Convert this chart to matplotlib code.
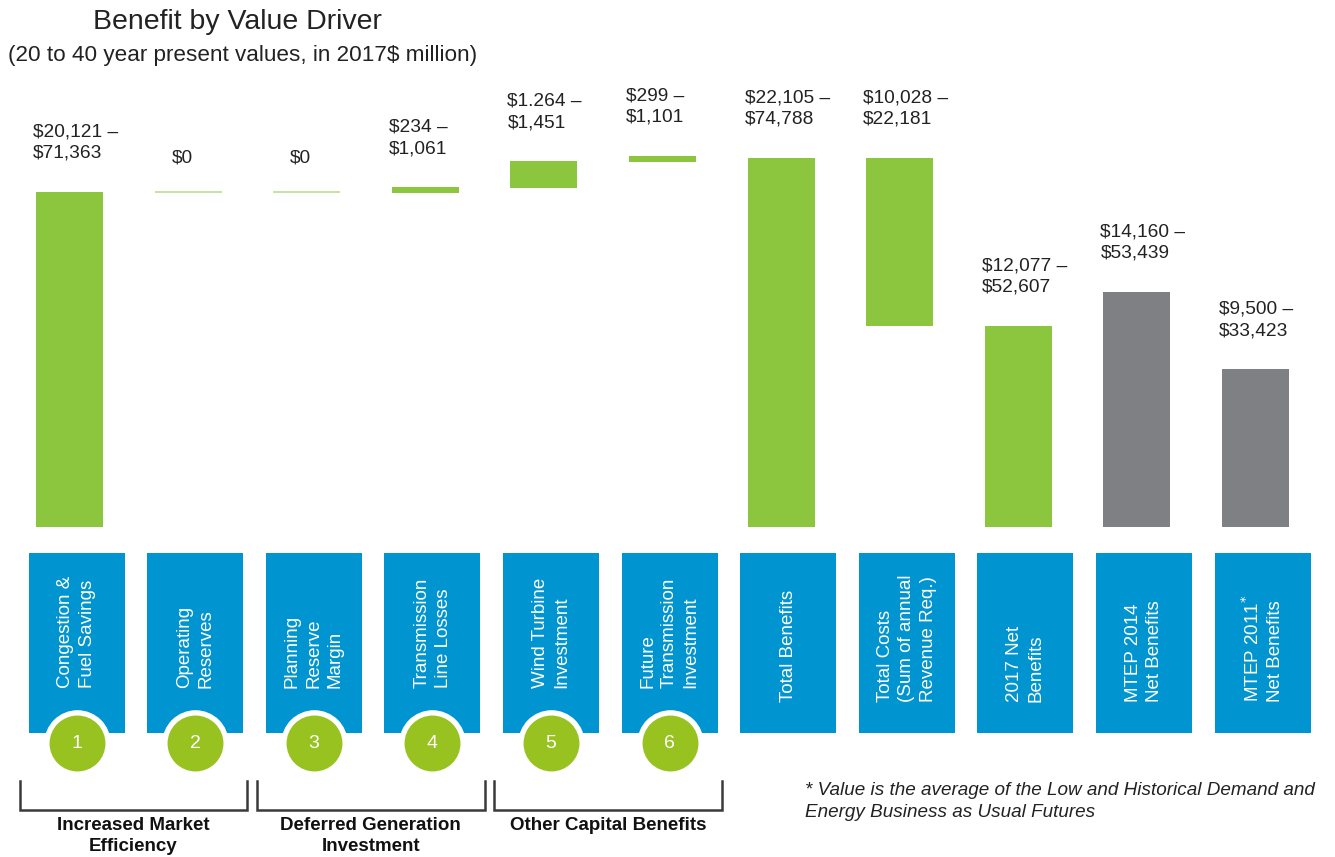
import numpy as np
import matplotlib
matplotlib.use("Agg")
import matplotlib.pyplot as plt
from matplotlib.patches import Rectangle

plt.rcParams['font.family'] = ['Liberation Sans', 'DejaVu Sans']

# bar extents (schematic height units, baseline = 0)
drivers = ["Congestion &\nFuel Savings", "Operating\nReserves", "Planning\nReserve\nMargin",
           "Transmission\nLine Losses", "Wind Turbine\nInvestment", "Future\nTransmission\nInvestment",
           "Total Benefits", "Total Costs\n(Sum of annual\nRevenue Req.)", "2017 Net\nBenefits",
           "MTEP 2014\nNet Benefits", "MTEP 2011$^{*}$\nNet Benefits"]
bar_base = [0, 334, 334, 334, 339, 365, 0, 201, 0, 0, 0]
bar_top = [335, 336, 336, 340, 366, 371, 369, 369, 201, 235, 158]
value_labels = ["$20,121 \u2013\n$71,363", "$0", "$0", "$234 \u2013\n$1,061", "$1.264 \u2013\n$1,451",
                "$299 \u2013\n$1,101", "$22,105 \u2013\n$74,788", "$10,028 \u2013\n$22,181",
                "$12,077 \u2013\n$52,607", "$14,160 \u2013\n$53,439", "$9,500 \u2013\n$33,423"]
previous_study = [False] * 9 + [True, True]
numbers = ["1", "2", "3", "4", "5", "6"]
groups = [("Increased Market\nEfficiency", 0, 1),
          ("Deferred Generation\nInvestment", 2, 3),
          ("Other Capital Benefits", 4, 5)]

GREEN = '#8cc63f'
LIGHT = '#c6e2a4'
GRAY = '#7f8083'
BLUE = '#0094d0'
CIRCLE = '#98c21f'

W_PX, H_PX = 1335, 857
fig = plt.figure(figsize=(W_PX / 100, H_PX / 100), dpi=100)
L = 10.2 / W_PX
W = 1304.6 / W_PX
base_px = 527

ax = fig.add_axes([L, (H_PX - base_px) / H_PX, W, base_px / H_PX])
ax.set_xlim(-0.5, 10.5)
ax.set_ylim(0, base_px)
ax.axis('off')

x = np.arange(len(drivers))
heights = np.array(bar_top) - np.array(bar_base)
colors = []
for i in range(len(drivers)):
    if previous_study[i]:
        colors.append(GRAY)
    elif value_labels[i] == "$0":
        colors.append(LIGHT)
    else:
        colors.append(GREEN)
bw = 0.565
ax.bar(x, heights, bottom=bar_base, width=bw, color=colors, edgecolor='none')

for i in range(len(drivers)):
    if "\n" in value_labels[i]:
        ax.annotate(value_labels[i], (x[i] - bw / 2, bar_top[i]), xytext=(-3, 30),
                    textcoords='offset pixels', ha='left', va='bottom', fontsize=13.8,
                    linespacing=1.35, color='#222222')
    else:
        ax.annotate(value_labels[i], (x[i] - 0.05, bar_top[i]), xytext=(0, 24),
                    textcoords='offset pixels', ha='center', va='bottom', fontsize=13.8,
                    color='#222222')

# label boxes underneath
ax2 = fig.add_axes([L, 0, W, (H_PX - base_px) / H_PX])
ax2.set_xlim(-0.5, 10.5)
ax2.set_ylim(H_PX, base_px)
ax2.axis('off')

shift = 0.06
for i in range(len(drivers)):
    ax2.add_patch(Rectangle((x[i] + shift - 0.405, 553), 0.81, 180, facecolor=BLUE,
                            edgecolor='none', zorder=1))
    ybot = 688 if i < len(numbers) else 702
    ax2.text(x[i] + shift, ybot, drivers[i], rotation=90, ha='center', va='bottom',
             multialignment='left', color='white', fontsize=13.5, linespacing=1.35, zorder=4)

for i, n in enumerate(numbers):
    ax2.scatter([x[i] + shift], [743], s=2300, color='white', zorder=2, linewidths=0)
    ax2.scatter([x[i] + shift], [743], s=1620, color=CIRCLE, zorder=3, linewidths=0)
    ax2.text(x[i] + shift, 744, n, ha='center', va='center', color='white', fontsize=14, zorder=4)

for name, a, b in groups:
    x0, x1 = a - 0.42, b + 0.5
    ax2.plot([x0, x0, x1, x1], [781, 810, 810, 781], color='#3a3a3a', lw=1.8,
             solid_joinstyle='miter', clip_on=False)
    ax2.text((x0 + x1) / 2, 817, name, ha='center', va='top', fontsize=13.5, fontweight='bold',
             linespacing=1.3, color='#111111')

fig.text(93 / W_PX, 1 - 22 / H_PX, "Benefit by Value Driver", fontsize=20.5, va='center',
         ha='left', color='#222222')
fig.text(8 / W_PX, 1 - 55 / H_PX, "(20 to 40 year present values, in 2017$ million)",
         fontsize=16.2, va='center', ha='left', color='#222222')
fig.text(805 / W_PX, 1 - 782 / H_PX,
         "* Value is the average of the Low and Historical Demand and\nEnergy Business as Usual Futures",
         fontsize=13.6, style='italic', va='top', ha='left', linespacing=1.35, color='#222222')

fig.savefig("out.png", dpi=100)
